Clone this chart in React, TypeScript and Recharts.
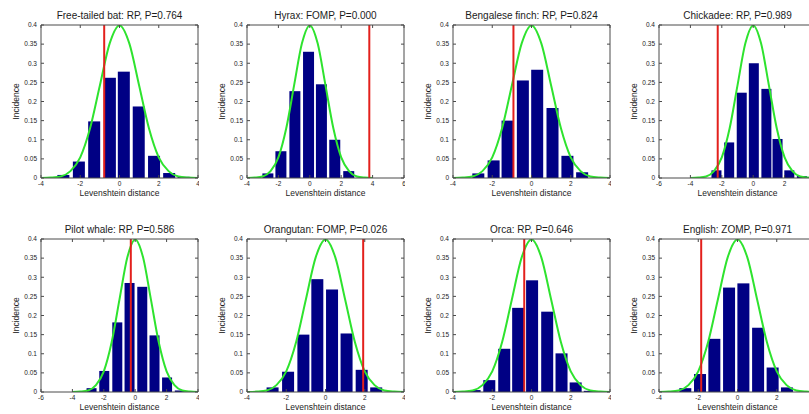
import { Bar, ComposedChart, Line, ReferenceLine, XAxis, YAxis } from 'recharts'

// panel titles, left-to-right then top-to-bottom
const TITLES = [
  'Free-tailed bat: RP, P=0.764',
  'Hyrax: FOMP, P=0.000',
  'Bengalese finch: RP, P=0.824',
  'Chickadee: RP, P=0.989',
  'Pilot whale: RP, P=0.586',
  'Orangutan: FOMP, P=0.026',
  'Orca: RP, P=0.646',
  'English: ZOMP, P=0.971',
]

// observed (red line) position per panel
const OBSERVED = [-0.78, 3.79, -0.92, -2.26, -0.28, 1.92, -0.37, -1.85]

const X_DOMAINS = [
  [-4, 4],
  [-4, 6],
  [-4, 4],
  [-6, 4],
  [-6, 4],
  [-4, 4],
  [-4, 4],
  [-4, 4],
]
// the right-most panels are cropped, so their last tick label is not shown
const X_TICKS = [
  [-4, -2, 0, 2, 4],
  [-4, -2, 0, 2, 4, 6],
  [-4, -2, 0, 2, 4],
  [-6, -4, -2, 0, 2],
  [-6, -4, -2, 0, 2, 4],
  [-4, -2, 0, 2, 4],
  [-4, -2, 0, 2, 4],
  [-4, -2, 0, 2],
]
const Y_TICKS = [0, 0.05, 0.1, 0.15, 0.2, 0.25, 0.3, 0.35, 0.4]

// green reference curve
const CURVE_X = [-4, -3.5, -3, -2.5, -2, -1.5, -1, -0.5, 0, 0.5, 1, 1.5, 2, 2.5, 3, 3.5, 4]
const CURVE_Y = [0, 0.001, 0.004, 0.018, 0.054, 0.13, 0.242, 0.352, 0.399, 0.352, 0.242, 0.13, 0.054, 0.018, 0.004, 0.001, 0]

// histogram bins (centres) and heights
const batBins = [-2.86, -2.07, -1.29, -0.49, 0.22, 0.98, 1.76, 2.53, 3.27]
const batFreq = [0.008, 0.043, 0.148, 0.262, 0.278, 0.187, 0.058, 0.013, 0.003]
const hyraxBins = [-2.67, -1.84, -0.95, -0.08, 0.74, 1.59, 2.48]
const hyraxFreq = [0.012, 0.07, 0.227, 0.33, 0.245, 0.1, 0.018]
const finchBins = [-2.71, -1.93, -1.22, -0.44, 0.29, 1.07, 1.83, 2.58]
const finchFreq = [0.012, 0.046, 0.15, 0.255, 0.283, 0.183, 0.058, 0.015]
const chickBins = [-2.34, -1.53, -0.73, 0.04, 0.84, 1.55, 2.3, 3.1]
const chickFreq = [0.02, 0.093, 0.223, 0.3, 0.233, 0.102, 0.02, 0.005]
const whaleBins = [-2.78, -1.97, -1.14, -0.36, 0.45, 1.23, 2.03, 2.84]
const whaleFreq = [0.01, 0.055, 0.182, 0.285, 0.275, 0.148, 0.038, 0.004]
const orangBins = [-2.69, -1.9, -1.12, -0.41, 0.34, 1.08, 1.85, 2.59]
const orangFreq = [0.012, 0.053, 0.15, 0.295, 0.268, 0.153, 0.058, 0.012]
const orcaBins = [-2.9, -2.15, -1.39, -0.68, 0.03, 0.8, 1.53, 2.25, 2.97]
const orcaFreq = [0.005, 0.031, 0.113, 0.22, 0.292, 0.21, 0.101, 0.025, 0.003]
const englishBins = [-2.66, -1.91, -1.18, -0.43, 0.3, 1.05, 1.79, 2.52]
const englishFreq = [0.01, 0.047, 0.139, 0.273, 0.284, 0.168, 0.064, 0.012]

const BINS = [batBins, hyraxBins, finchBins, chickBins, whaleBins, orangBins, orcaBins, englishBins]
const FREQ = [batFreq, hyraxFreq, finchFreq, chickFreq, whaleFreq, orangFreq, orcaFreq, englishFreq]

const PLOT_W = 157
const PLOT_H = 153
const LEFTS = [41, 247, 453, 659]
const TOPS = [25, 239]
const Y_AXIS_W = 50
const TITLE_H = 20
const X_AXIS_H = 30

const FONT = '"Liberation Sans", Arial, Helvetica, sans-serif'
const INK = '#1c1c1c'
const AXIS = '#4a4a4a'
const BAR_FILL = '#000084'

const noTick = () => <g />

// the bar keeps the x/y/height recharts computes, only the width is set to the bin width
function binShape(barSize: number) {
  return (props: any) => {
    const { x, y, width, height } = props
    if (height == null || height <= 0) return <g />
    const cx = x + width / 2
    return <rect x={cx - barSize / 2} y={y} width={barSize} height={height} fill={BAR_FILL} />
  }
}

function Panel({ index }: { index: number }) {
  const bins = BINS[index]
  const freq = FREQ[index]
  const ticks = X_TICKS[index]
  const domain = X_DOMAINS[index] as [number, number]
  const data = bins.map((x, i) => ({ x, freq: freq[i] }))
  const curve = CURVE_X.map((x, i) => ({ x, pdf: CURVE_Y[i] }))

  const pxPerUnit = PLOT_W / (domain[1] - domain[0])
  const step = (bins[bins.length - 1] - bins[0]) / (bins.length - 1)
  const barSize = Math.round(step * pxPerUnit * 0.82)

  const left = LEFTS[index % 4] - Y_AXIS_W
  const top = TOPS[Math.floor(index / 4)] - TITLE_H

  return (
    <div style={{ position: 'absolute', left, top }}>
      <ComposedChart
        width={Y_AXIS_W + PLOT_W + 1}
        height={TITLE_H + PLOT_H + X_AXIS_H}
        data={data}
        margin={{ top: 0, right: 0, bottom: 0, left: 0 }}
      >
        <XAxis
          xAxisId="b"
          dataKey="x"
          type="number"
          domain={domain}
          ticks={ticks}
          interval={0}
          allowDataOverflow
          height={X_AXIS_H}
          stroke={AXIS}
          tickSize={-3}
          tickMargin={6}
          tick={{ fontSize: 6.5, fill: INK, fontFamily: FONT }}
          label={{
            value: 'Levenshtein distance',
            position: 'center',
            fontSize: 8.5,
            fill: INK,
            fontFamily: FONT,
          }}
        />
        <XAxis
          xAxisId="t"
          orientation="top"
          dataKey="x"
          type="number"
          domain={domain}
          ticks={ticks}
          interval={0}
          allowDataOverflow
          height={TITLE_H}
          stroke={AXIS}
          tickSize={-3}
          tick={noTick}
          label={{
            value: TITLES[index],
            position: 'center',
            fontSize: 10,
            fill: INK,
            fontFamily: FONT,
          }}
        />
        <YAxis
          yAxisId="l"
          type="number"
          domain={[0, 0.4]}
          ticks={Y_TICKS}
          interval={0}
          allowDataOverflow
          width={Y_AXIS_W}
          stroke={AXIS}
          tickSize={-3}
          tickMargin={7}
          tick={{ fontSize: 6.5, fill: INK, fontFamily: FONT }}
          label={{
            value: 'Incidence',
            position: 'center',
            angle: -90,
            fontSize: 8.5,
            fill: INK,
            fontFamily: FONT,
          }}
        />
        <YAxis
          yAxisId="r"
          orientation="right"
          type="number"
          domain={[0, 0.4]}
          ticks={Y_TICKS}
          interval={0}
          allowDataOverflow
          width={1}
          stroke={AXIS}
          tickSize={-3}
          tick={noTick}
        />
        <Bar
          xAxisId="b"
          yAxisId="l"
          dataKey="freq"
          fill={BAR_FILL}
          shape={binShape(barSize)}
          isAnimationActive={false}
        />
        <Line
          xAxisId="b"
          yAxisId="l"
          data={curve}
          dataKey="pdf"
          type="monotone"
          stroke="#2ee32e"
          strokeWidth={2}
          dot={false}
          activeDot={false}
          isAnimationActive={false}
        />
        <ReferenceLine
          xAxisId="b"
          yAxisId="l"
          x={OBSERVED[index]}
          stroke="#e3201c"
          strokeWidth={2}
        />
      </ComposedChart>
    </div>
  )
}

export default function App() {
  return (
    <div
      style={{
        position: 'absolute',
        left: 0,
        top: 0,
        width: 809,
        height: 414,
        overflow: 'hidden',
        background: '#fff',
      }}
    >
      {TITLES.map((_, i) => (
        <Panel key={i} index={i} />
      ))}
    </div>
  )
}
